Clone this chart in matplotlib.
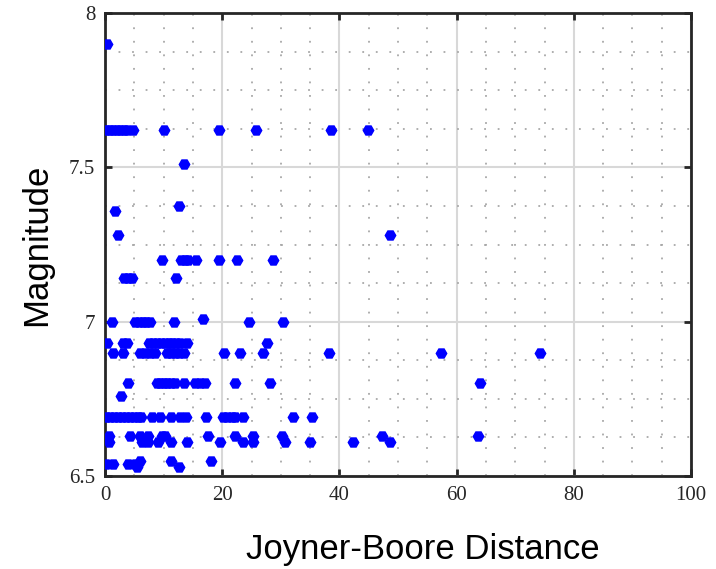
import numpy as np
import matplotlib
matplotlib.use("Agg")
import matplotlib.pyplot as plt
from matplotlib.ticker import MultipleLocator

# ---------------- Data ----------------
# magnitude levels and the Joyner-Boore distances recorded at each level
mag_levels = [7.90, 7.62, 7.51, 7.375, 7.36, 7.28, 7.20, 7.14, 7.00, 7.01,
              6.93, 6.90, 6.80, 6.76, 6.69, 6.63, 6.61, 6.54, 6.55, 6.53]
rjb_groups = [
    [0.3],
    [0.2, 0.8, 1.4, 2.0, 2.6, 3.2, 3.7, 4.8, 10.0, 19.5, 25.8, 38.6, 44.9],
    [13.5],
    [12.6],
    [1.7],
    [2.2, 48.6],
    [9.7, 13.0, 13.6, 14.2, 15.5, 19.5, 22.6, 28.6],
    [3.3, 4.0, 4.6, 12.2],
    [1.25, 5.2, 5.8, 6.4, 7.0, 7.6, 11.8, 24.6, 30.3],
    [16.8],
    [0.3, 3.1, 3.7, 7.5, 8.2, 8.9, 9.6, 10.2, 10.9, 11.5, 12.1, 12.8, 14.0, 27.7],
    [1.4, 3.1, 6.0, 6.8, 7.6, 8.5, 10.5, 11.2, 12.0, 12.7, 13.4, 20.3, 23.0,
     27.0, 38.2, 57.3, 74.2],
    [3.9, 8.8, 9.4, 10.0, 10.6, 11.2, 11.9, 13.4, 15.4, 16.2, 17.0, 22.1, 28.2, 64.0],
    [2.7],
    [0.1, 0.8, 1.5, 2.2, 2.9, 3.6, 4.3, 5.0, 5.6, 6.2, 8.0, 9.4, 11.2, 12.8, 13.8,
     17.2, 20.2, 20.9, 21.6, 22.2, 23.6, 32.0, 35.4],
    [0.6, 4.3, 6.0, 7.4, 9.7, 10.2, 17.6, 22.2, 25.3, 30.2, 47.2, 63.7],
    [0.6, 6.3, 7.4, 9.0, 11.2, 14.0, 19.6, 23.6, 25.3, 30.8, 35.0, 42.3, 48.6],
    [0.2, 1.4, 4.0, 5.1],
    [6.0, 11.2, 18.1],
    [5.4, 12.6],
]

x_ticks = [0, 20, 40, 60, 80, 100]
y_ticks = [6.5, 7, 7.5, 8]
y_tick_labels = ["6.5", "7", "7.5", "8"]

rjb = np.concatenate([np.array(g, dtype=float) for g in rjb_groups])
mag = np.concatenate([np.full(len(g), m) for g, m in zip(rjb_groups, mag_levels)])

# ---------------- Plot ----------------
fig = plt.figure(figsize=(7.16, 5.69), dpi=100)
ax = fig.add_axes([105 / 716, 93 / 569, 586 / 716, 463 / 569])

ax.plot(rjb, mag, linestyle="none", marker="H", markersize=7.5,
        color="#0000ff", markeredgecolor="#0000ff", zorder=3)

ax.set_xlim(0, 100)
ax.set_ylim(6.5, 8)
ax.set_xticks(x_ticks)
ax.set_yticks(y_ticks)
ax.set_yticklabels(y_tick_labels)
ax.xaxis.set_minor_locator(MultipleLocator(5))
ax.yaxis.set_minor_locator(MultipleLocator(0.125))

ax.grid(which="major", color="#d8d8d8", linewidth=1.5, linestyle="-")
ax.grid(which="minor", color="#a8a8a8", linewidth=1.3, linestyle=(0, (1, 6.5)))
ax.set_axisbelow(True)

for s in ax.spines.values():
    s.set_linewidth(2.0)
    s.set_color("#262626")

ax.tick_params(which="major", direction="in", length=5, width=2, color="#262626",
               top=True, right=True, pad=7)
ax.tick_params(which="minor", length=0)
for lbl in ax.get_xticklabels() + ax.get_yticklabels():
    lbl.set_fontfamily("Liberation Serif")
    lbl.set_fontsize(15)
    lbl.set_color("#262626")

ax.set_xlabel("Joyner-Boore Distance", fontfamily="Liberation Sans", fontsize=25)
ax.set_ylabel("Magnitude", fontfamily="Liberation Sans", fontsize=25)
ax.xaxis.set_label_coords(0.543, -0.123)
ax.yaxis.set_label_coords(-0.088, 0.5)

fig.savefig("out.png", dpi=100)
